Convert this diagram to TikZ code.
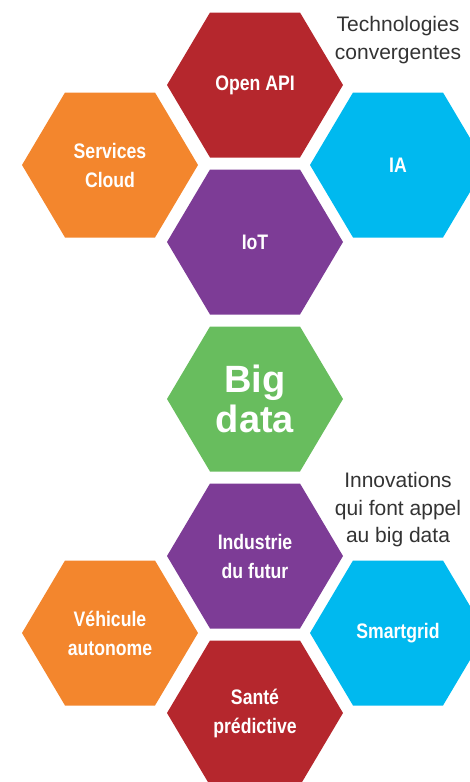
\documentclass[tikz,border=0pt]{standalone}
\usepackage{fontspec}
\setmainfont{Liberation Sans}
\newfontfamily\narrowfont[FakeStretch=0.84]{Liberation Sans}
\definecolor{hexred}{HTML}{B5272D}
\definecolor{hexorange}{HTML}{F3862D}
\definecolor{hexcyan}{HTML}{00B9EF}
\definecolor{hexpurple}{HTML}{7D3C96}
\definecolor{hexgreen}{HTML}{68BD5E}
\definecolor{captiongray}{HTML}{333333}
\tikzset{
    hexlabel/.style={text=white, align=center, inner sep=0pt,
        font=\narrowfont\bfseries\fontsize{21}{29}\selectfont},
    biglabel/.style={text=white, align=center, inner sep=0pt,
        font=\bfseries\fontsize{38}{40}\selectfont},
    caption/.style={text=captiongray, align=center, inner sep=0pt,
        font=\fontsize{21}{27.5}\selectfont}
}
\begin{document}
\begin{tikzpicture}[x=1pt,y=-1pt]
    \useasboundingbox (0,0) rectangle (470,782);
    \clip (0,0) rectangle (470,782);
    % hexagons, centre x/y, colour, name, text
    \foreach \cx/\cy/\col/\name/\txt in {
        255/85/hexred/openapi/{Open API},
        110/165/hexorange/cloud/{Services\\Cloud},
        398/165/hexcyan/ia/{IA},
        255/242/hexpurple/iot/{IoT},
        255/399/hexgreen/bigdata/{},
        255/556/hexpurple/industrie/{Industrie\\du futur},
        110/633/hexorange/vehicule/{Véhicule\\autonome},
        398/633/hexcyan/smartgrid/{Smartgrid},
        255/713/hexred/sante/{Santé\\prédictive}} {
        \fill[\col] (\cx-88,\cy) -- (\cx-45,\cy-72.5) -- (\cx+45,\cy-72.5)
            -- (\cx+88,\cy) -- (\cx+45,\cy+72.5) -- (\cx-45,\cy+72.5) -- cycle;
        \node[hexlabel] (\name) at (\cx,\cy) {\txt};
    }
    \node[biglabel] (bigdatatxt) at (255,399) {Big\\data};
    \node[caption] (techno) at (398,40) {Technologies\\convergentes};
    \node[caption] (innov) at (398,510) {Innovations\\qui font appel\\au big data};
\end{tikzpicture}
\end{document}
